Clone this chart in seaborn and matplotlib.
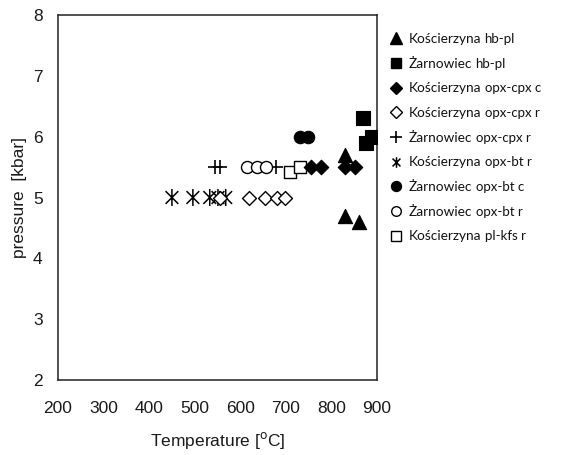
import matplotlib
matplotlib.use("Agg")
import matplotlib.pyplot as plt
from matplotlib.path import Path
from matplotlib.lines import Line2D
import seaborn as sns
import pandas as pd

# ---- data ----
k_hbpl_T = [830, 830, 860]
k_hbpl_P = [5.7, 4.7, 4.6]
z_hbpl_T = [870, 875, 890]
z_hbpl_P = [6.3, 5.9, 6.0]
k_opxcpx_c_T = [755, 778, 830, 852]
k_opxcpx_c_P = [5.5, 5.5, 5.5, 5.5]
k_opxcpx_r_T = [555, 620, 655, 680, 698]
k_opxcpx_r_P = [5.0, 5.0, 5.0, 5.0, 5.0]
z_opxcpx_r_T = [544, 555, 678]
z_opxcpx_r_P = [5.5, 5.5, 5.5]
k_opxbt_r_T = [450, 496, 533, 551, 568]
k_opxbt_r_P = [5.0, 5.0, 5.0, 5.0, 5.0]
z_opxbt_c_T = [731, 749]
z_opxbt_c_P = [6.0, 6.0]
z_opxbt_r_T = [615, 637, 657]
z_opxbt_r_P = [5.5, 5.5, 5.5]
k_plkfs_r_T = [708, 731]
k_plkfs_r_P = [5.42, 5.5]

names = ["Kościerzyna", "Żarnowiec", "Kościerzyna", "Kościerzyna", "Żarnowiec",
         "Kościerzyna", "Żarnowiec", "Żarnowiec", "Kościerzyna"]
suffixes = ["hb-pl", "hb-pl", "opx-cpx c", "opx-cpx r", "opx-cpx r",
            "opx-bt r", "opx-bt c", "opx-bt r", "pl-kfs r"]
x_ticks = [200, 300, 400, 500, 600, 700, 800, 900]
y_ticks = [2, 3, 4, 5, 6, 7, 8]

series_T = [k_hbpl_T, z_hbpl_T, k_opxcpx_c_T, k_opxcpx_r_T, z_opxcpx_r_T,
            k_opxbt_r_T, z_opxbt_c_T, z_opxbt_r_T, k_plkfs_r_T]
series_P = [k_hbpl_P, z_hbpl_P, k_opxcpx_c_P, k_opxcpx_r_P, z_opxcpx_r_P,
            k_opxbt_r_P, z_opxbt_c_P, z_opxbt_r_P, k_plkfs_r_P]

# asterisk-like marker: vertical line plus an X
ast = Path([(0, -1), (0, 1), (-0.75, -0.75), (0.75, 0.75), (-0.75, 0.75), (0.75, -0.75)],
           [Path.MOVETO, Path.LINETO, Path.MOVETO, Path.LINETO, Path.MOVETO, Path.LINETO])

# marker, kind, size, linewidth
styles = [
    ("^", "filled", 105, 0.8),
    ("s", "filled", 95, 0.8),
    ("D", "filled", 55, 0.8),
    ("D", "open", 50, 1.0),
    ("+", "line", 100, 1.2),
    (ast, "path", 150, 1.1),
    ("o", "filled", 80, 0.8),
    ("o", "open", 75, 1.0),
    ("s", "open", 70, 1.0),
]

sns.set_style("white")
plt.rcParams["font.family"] = ["Liberation Sans", "DejaVu Sans"]

fig = plt.figure(figsize=(5.65, 4.55), dpi=100)
ax = fig.add_axes([58 / 565, 1 - 380 / 455, (377 - 58) / 565, (380 - 15) / 455])

order = [5, 4, 3, 7, 8, 6, 2, 0, 1]
for i in order:
    m, kind, s, lw = styles[i]
    df = pd.DataFrame({"T": series_T[i], "P": series_P[i]})
    if kind == "line":
        sns.scatterplot(data=df, x="T", y="P", ax=ax, marker=m, s=s, color="black",
                        linewidth=lw, legend=False, zorder=3)
    elif kind == "path":
        sns.scatterplot(data=df, x="T", y="P", ax=ax, marker=m, s=s,
                        edgecolor="black", facecolor="none",
                        linewidth=lw, legend=False, zorder=3)
    elif kind == "filled":
        sns.scatterplot(data=df, x="T", y="P", ax=ax, marker=m, s=s, color="black",
                        edgecolor="black", linewidth=lw, legend=False, zorder=3)
    else:
        sns.scatterplot(data=df, x="T", y="P", ax=ax, marker=m, s=s, facecolor="white",
                        edgecolor="black", linewidth=lw, legend=False, zorder=3)

ax.set_xlim(200, 900)
ax.set_ylim(2, 8)
ax.set_xticks(x_ticks)
ax.set_yticks(y_ticks)
ax.tick_params(length=0, labelsize=12.5, colors="#1a1a1a")
ax.tick_params(axis="x", pad=15)
ax.tick_params(axis="y", pad=11)
for sp in ax.spines.values():
    sp.set_visible(True)
    sp.set_color("#222222")
    sp.set_linewidth(1.1)
ax.set_xlabel("Temperature [$^{\\rm o}$C]", fontsize=12.5, labelpad=10, color="#1a1a1a")
ax.set_ylabel("pressure  [kbar]", fontsize=12.5, labelpad=4, color="#1a1a1a")

# legend
handles = []
for i in range(9):
    m, kind, s, lw = styles[i]
    ms = (s ** 0.5) * 0.8
    if kind in ("line", "path"):
        if kind == "path":
            ms = (s ** 0.5) * 0.62
        h = Line2D([], [], linestyle="none", marker=m, markersize=ms, color="black",
                   markerfacecolor="none", markeredgecolor="black", markeredgewidth=lw)
    elif kind == "filled":
        h = Line2D([], [], linestyle="none", marker=m, markersize=ms, color="black",
                   markerfacecolor="black", markeredgecolor="black")
    else:
        h = Line2D([], [], linestyle="none", marker=m, markersize=ms, color="black",
                   markerfacecolor="white", markeredgecolor="black", markeredgewidth=lw)
    handles.append(h)

leg = fig.legend(handles, names, loc="upper left", bbox_to_anchor=(390 / 565, 1 - 33 / 455),
                 frameon=False, fontsize=9.8, handlelength=0.9, handletextpad=0.5,
                 labelspacing=0.93, borderaxespad=0, borderpad=0)
for t in leg.get_texts():
    t.set_family(["Lato", "DejaVu Sans"])
    t.set_color("#111111")

fig.canvas.draw()
renderer = fig.canvas.get_renderer()
inv = fig.transFigure.inverted()
for t, suf in zip(leg.get_texts(), suffixes):
    bb = t.get_window_extent(renderer)
    x0, y0 = inv.transform((bb.x1 + 3, (bb.y0 + bb.y1) / 2))
    fig.text(x0, y0, suf, fontsize=9.5, family=["Lato", "DejaVu Sans"],
             va="center", ha="left", color="#111111")

fig.savefig("out.png", dpi=100)
